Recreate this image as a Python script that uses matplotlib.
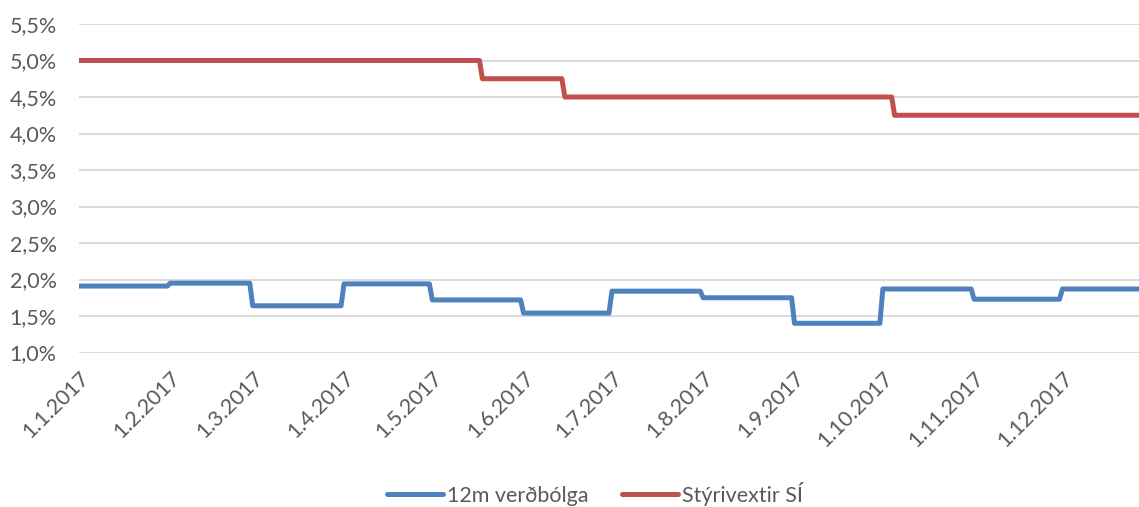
import matplotlib
matplotlib.use("Agg")
import matplotlib.pyplot as plt
import numpy as np
import pandas as pd
from matplotlib.ticker import FuncFormatter, MultipleLocator

plt.rcParams['font.family'] = ['Lato', 'DejaVu Sans']

# Data
start_date = "2017-01-01"
end_date = "2017-12-27"
month_starts = ["2017-01-01", "2017-02-01", "2017-03-01", "2017-04-01", "2017-05-01", "2017-06-01",
                "2017-07-01", "2017-08-01", "2017-09-01", "2017-10-01", "2017-11-01", "2017-12-01"]
inflation = [1.91, 1.95, 1.64, 1.94, 1.72, 1.54, 1.84, 1.75, 1.40, 1.87, 1.73, 1.87]
rate_dates = ["2017-01-01", "2017-05-18", "2017-06-15", "2017-10-05"]
policy_rate = [5.00, 4.75, 4.50, 4.25]
tick_labels = ["1.1.2017", "1.2.2017", "1.3.2017", "1.4.2017", "1.5.2017", "1.6.2017",
               "1.7.2017", "1.8.2017", "1.9.2017", "1.10.2017", "1.11.2017", "1.12.2017"]
series_names = ["12m verðbólga", "Stýrivextir SÍ"]

days = pd.date_range(start_date, end_date, freq="D")
infl_daily = pd.Series(inflation, index=pd.to_datetime(month_starts)).reindex(days, method="ffill")
rate_daily = pd.Series(policy_rate, index=pd.to_datetime(rate_dates)).reindex(days, method="ffill")

fig = plt.figure(figsize=(11.39, 5.07), dpi=100)
ax = fig.add_axes([79/1139, 1-352.5/507, 1-79/1139, (352.5-24)/507])

blue = "#4F81BD"
red = "#C0504D"
ax.plot(days, infl_daily.values, color=blue, lw=3.6, solid_capstyle="round",
        solid_joinstyle="round", label=series_names[0], zorder=3)
ax.plot(days, rate_daily.values, color=red, lw=3.6, solid_capstyle="round",
        solid_joinstyle="round", label=series_names[1], zorder=3)

ax.set_ylim(1.0, 5.5)
ax.set_xlim(days[0], days[-1])
ax.yaxis.set_major_locator(MultipleLocator(0.5))
ax.yaxis.set_major_formatter(FuncFormatter(lambda v, p: f"{v:.1f}".replace(".", ",") + "%"))
ax.grid(axis="y", color="#D9D9D9", lw=1.4, zorder=0)
ax.set_axisbelow(True)
for s in ax.spines.values():
    s.set_visible(False)

ax.set_xticks(pd.to_datetime(month_starts))
ax.set_xticklabels(tick_labels, rotation=45, ha="right", va="top", rotation_mode="anchor")
ax.tick_params(axis="both", length=0, labelsize=15.5, labelcolor="#595959")
ax.tick_params(axis="y", pad=16)
ax.tick_params(axis="x", pad=11)

fig.legend(loc="center", bbox_to_anchor=(595/1139, 1-494/507), ncol=2, frameon=False,
           fontsize=15.5, handlelength=2.6, handletextpad=0.15, columnspacing=1.6,
           labelcolor="#595959")

fig.savefig("out.png", dpi=100)
